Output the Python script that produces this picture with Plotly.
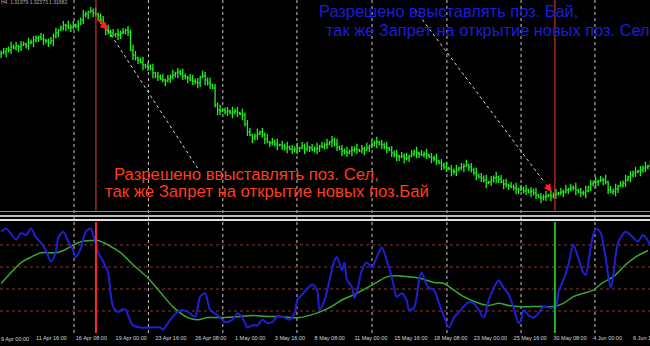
import plotly.graph_objects as go

# ---------------- data ----------------
bar_start = 2  # index of first visible H4 bar (bar 0 = 9 Apr 00:00)
close = [
    157, 158, 161, 160, 163, 162, 164, 163, 165, 166,
    164, 167, 168, 170, 172, 173, 171, 170, 169, 167,
    169, 174, 177, 180, 182, 185, 184, 182, 183, 185,
    184, 186, 190, 195, 196, 198, 199, 197, 196, 194,
    190, 184, 180, 178, 177, 175, 176, 175, 177, 178,
    180, 178, 160, 155, 152, 150, 148, 145, 144, 143,
    141, 137, 134, 133, 131, 130, 129, 131, 133, 135,
    137, 138, 136, 134, 133, 132, 130, 129, 128, 127,
    133, 134, 130, 127, 125, 122, 105, 100, 99, 100,
    98, 99, 97, 98, 99, 97, 96, 95, 86, 78,
    75, 72, 74, 76, 78, 75, 71, 68, 67, 68,
    66, 65, 65, 64, 62, 63, 61, 60, 61, 62,
    62, 64, 61, 63, 62, 60, 61, 62, 64, 63,
    65, 66, 68, 70, 66, 63, 61, 59, 58, 57,
    59, 60, 61, 60, 59, 61, 60, 62, 64, 66,
    67, 68, 66, 65, 63, 62, 60, 57, 55, 54,
    53, 54, 52, 52, 54, 56, 58, 57, 56, 55,
    56, 55, 53, 52, 51, 49, 47, 45, 43, 42,
    41, 39, 38, 40, 42, 43, 44, 45, 43, 40,
    37, 35, 33, 32, 30, 27, 28, 30, 32, 33,
    31, 28, 26, 25, 24, 23, 22, 21, 20, 21,
    19, 20, 18, 19, 17, 15, 13, 12, 13, 14,
    15, 14, 15, 16, 17, 18, 18, 20, 21, 22,
    22, 20, 18, 17, 17, 19, 23, 26, 27, 28,
    29, 30, 30, 28, 20, 18, 19, 21, 24, 25,
    27, 30, 33, 35, 37, 38, 39, 40, 42, 43,
    44, 45,
]
first_open = 156
up_wick = ("2312423132 1423213412 3241231423 1324213241 2314231423 1324312413 "
           "2413241324 1324213423 1432413241 2314231423 3124132413 2413241324 "
           "1324132413 2413241324 1324132413 2413241324 1324132413 2413241324 "
           "1324132413 2413241324 1324132413 2413241324 1324132413 2413241324 "
           "1324132413 2413241324 13").replace(" ", "")
dn_wick = ("3142312431 2314231423 1423124132 2413241324 3142312431 2314231423 "
           "1423124132 2413241324 3142312431 2314231423 1423124132 2413241324 "
           "3142312431 2314231423 1423124132 2413241324 3142312431 2314231423 "
           "1423124132 2413241324 3142312431 2314231423 1423124132 2413241324 "
           "3142312431 2314231423 21").replace(" ", "")

first_label = "9 Apr 00:00"   # its tick lies just left of the visible area
tick_bars = [16, 32, 48, 64, 80, 96, 112, 128, 144, 160, 176, 192, 208, 224, 240, 256]
tick_text = ["11 Apr 16:00", "16 Apr 08:00", "19 Apr 00:00",
             "23 Apr 16:00", "26 Apr 08:00", "1 May 00:00", "3 May 16:00",
             "8 May 08:00", "11 May 00:00", "15 May 16:00", "18 May 08:00",
             "23 May 00:00", "25 May 16:00", "30 May 08:00", "4 Jun 00:00",
             "6 Jun 16:00"]

osc_bars = [2, 4, 8, 10, 12, 14, 16, 18, 20, 22, 24, 25, 27, 29, 31, 32, 34, 36, 38, 39,
            41, 43, 45, 46, 47, 49, 50, 52, 53, 55, 58, 62, 66, 67, 69, 71, 73, 75, 77, 80,
            82, 84, 86, 89, 92, 95, 97, 99, 101, 103, 105, 107, 109, 111, 113, 115, 118, 120, 121, 123,
            127, 129, 130, 132, 134, 136, 137, 139, 140, 141, 143, 144, 145, 147, 149, 151, 153, 155, 157, 159,
            160, 161, 163, 165, 166, 168, 170, 171, 173, 174, 176, 178, 180, 182, 184, 186, 190, 192, 194, 196,
            198, 201, 202, 204, 206, 208, 210, 211, 212, 214, 216, 218, 220, 223, 225, 226, 228, 230, 232, 234,
            236, 237, 239, 241, 243, 245, 247, 248, 250, 253, 256, 258, 260, 263]
osc_vals = [92, 95, 85, 91, 89, 95, 87, 82, 75, 65, 74, 87, 92, 83, 75, 69, 77, 92, 95, 89,
            73, 65, 55, 36, 24, 19, 21, 21, 16, 7, 5, 5, 5, 3, 9, 15, 19, 21, 19, 15,
            33, 36, 21, 16, 10, 12, 18, 14, 5, 7, 7, 12, 9, 10, 15, 15, 12, 18, 30, 35,
            44, 39, 21, 30, 48, 66, 69, 57, 64, 48, 42, 32, 37, 57, 64, 60, 69, 78, 66, 51,
            41, 33, 36, 30, 21, 23, 48, 55, 44, 41, 39, 27, 15, 5, 14, 19, 28, 27, 21, 14,
            30, 45, 48, 41, 35, 23, 9, 12, 21, 16, 14, 18, 24, 23, 24, 37, 48, 62, 80, 68,
            55, 53, 78, 95, 91, 68, 41, 51, 82, 92, 87, 83, 89, 80]

sig_bars = [2, 6, 10, 14, 18, 24, 27, 31, 34, 38, 41, 45, 50, 55, 61, 66, 71, 77, 81, 85,
            90, 98, 103, 109, 114, 118, 122, 126, 130, 134, 139, 145, 149, 153, 157, 161, 166, 170, 176, 180,
            184, 188, 193, 198, 202, 206, 210, 215, 220, 224, 228, 232, 236, 240, 244, 248, 253, 257, 262]
sig_vals = [45, 55, 64, 69, 73, 73, 75, 80, 83, 84, 84, 80, 73, 62, 50, 37, 24, 14, 12, 14,
            14, 15, 16, 15, 15, 14, 14, 16, 19, 23, 30, 36, 41, 46, 51, 52, 51, 50, 46, 45,
            39, 33, 28, 25, 27, 25, 24, 24, 24, 24, 27, 33, 36, 39, 46, 51, 62, 69, 75]

grid_bars = [31.3, 61.2, 91.1, 120.9, 151.1, 181.2, 211.0, 240.7]
level_vals = [20, 40, 60, 80]
signal_bars = [40.1, 224.6]
signal_colors_low = ["#ff2a2a", "#22b822"]

trend_lines = [((44.9, 180), (80.9, 42)), ((168.4, 200), (220.6, 27))]
arrow_tips = [(44.9, 180), (223.4, 18)]

# ---------------- build OHLC ----------------
n = len(close)
bars = [bar_start + k for k in range(n)]
opens = [first_open] + close[:-1]
highs, lows = [], []
wick_scale = 1.3
for k in range(n):
    u = int(up_wick[k]) if k < len(up_wick) else 2
    d = int(dn_wick[k]) if k < len(dn_wick) else 2
    highs.append(max(opens[k], close[k]) + u * wick_scale)
    lows.append(min(opens[k], close[k]) - d * wick_scale)

W, H = 650, 346
def py(p):
    return 1 - p / H

x_px_per_bar = 2.4875
x_left = 3.8 / x_px_per_bar
x_range = [x_left, x_left + W / x_px_per_bar]

fig = go.Figure()
fig.add_trace(go.Ohlc(x=bars, open=opens, high=highs, low=lows, close=close,
                      increasing=dict(line=dict(color="#22f022", width=1.3)),
                      decreasing=dict(line=dict(color="#22f022", width=1.3)),
                      tickwidth=0.4, xaxis="x", yaxis="y", hoverinfo="skip"))
fig.add_trace(go.Scatter(x=sig_bars, y=sig_vals, mode="lines",
                         line=dict(color="#3aa830", width=1.5, shape="spline", smoothing=0.8),
                         xaxis="x2", yaxis="y2", hoverinfo="skip"))
fig.add_trace(go.Scatter(x=osc_bars, y=osc_vals, mode="lines",
                         line=dict(color="#1f1fd6", width=2, shape="spline", smoothing=0.8),
                         xaxis="x2", yaxis="y2", hoverinfo="skip"))

shapes = []
# vertical dotted grid through both panels
for g in grid_bars:
    shapes.append(dict(type="line", xref="x", yref="paper", x0=g, x1=g,
                       y0=py(333), y1=1, line=dict(color="#c8c8c8", width=1, dash="dot"),
                       layer="below"))
# lower-panel horizontal levels
for lv in level_vals:
    shapes.append(dict(type="line", xref="paper", yref="y2", x0=0, x1=1, y0=lv, y1=lv,
                       line=dict(color="#8a3a2a", width=1, dash="dot"), layer="below"))
# separator lines
shapes.append(dict(type="line", xref="paper", yref="paper", x0=0, x1=1, y0=py(211.5), y1=py(211.5),
                   line=dict(color="#8c8c8c", width=1)))
shapes.append(dict(type="line", xref="paper", yref="paper", x0=0, x1=1, y0=py(216), y1=py(216),
                   line=dict(color="#bdbdbd", width=2)))
shapes.append(dict(type="line", xref="paper", yref="paper", x0=0, x1=1, y0=py(220), y1=py(220),
                   line=dict(color="#e0e0e0", width=2)))
# signal verticals
for sb, col in zip(signal_bars, signal_colors_low):
    shapes.append(dict(type="line", xref="x", yref="paper", x0=sb, x1=sb, y0=py(210.5), y1=1,
                       line=dict(color="#e0402e", width=1)))
    shapes.append(dict(type="line", xref="x2", yref="paper", x0=sb, x1=sb, y0=py(333), y1=py(222),
                       line=dict(color=col, width=2)))
# dotted trend lines
for (a, b) in trend_lines:
    shapes.append(dict(type="line", xref="x", yref="y", x0=a[0], y0=a[1], x1=b[0], y1=b[1],
                       line=dict(color="#d8d8d8", width=1, dash="dot")))

annotations = []
red_txt = "#ff3c1e"
blue_txt = "#1c1cdc"
font_main = "Liberation Sans, Arial, sans-serif"
tick_font = dict(family=font_main, size=5.5, color="#d8d8d8")
annotations.append(dict(text="Разрешено ввыставлять поз. Сел,", xref="paper", yref="paper",
                        x=113 / W, y=py(174), xanchor="left", yanchor="middle", showarrow=False,
                        font=dict(family=font_main, size=16.7, color=red_txt), borderpad=0))
annotations.append(dict(text="так же Запрет на открытие новых поз.Бай", xref="paper", yref="paper",
                        x=104 / W, y=py(192), xanchor="left", yanchor="middle", showarrow=False,
                        font=dict(family=font_main, size=16.7, color=red_txt), borderpad=0))
annotations.append(dict(text="Разрешено ввыставлять поз. Бай,", xref="paper", yref="paper",
                        x=318 / W, y=py(11), xanchor="left", yanchor="middle", showarrow=False,
                        font=dict(family=font_main, size=16.4, color=blue_txt), borderpad=0))
annotations.append(dict(text="так же Запрет на открытие новых поз. Сел", xref="paper", yref="paper",
                        x=325 / W, y=py(30), xanchor="left", yanchor="middle", showarrow=False,
                        font=dict(family=font_main, size=16.4, color=blue_txt), borderpad=0))
annotations.append(dict(text="H4  1.31979 1.32373 1.31682", xref="paper", yref="paper",
                        x=0, y=py(2), xanchor="left", yanchor="middle", showarrow=False,
                        font=dict(family=font_main, size=5, color="#b0b0b0"), borderpad=0))
annotations.append(dict(text=first_label, xref="paper", yref="paper",
                        x=0, y=py(338.5), xanchor="left", yanchor="middle", showarrow=False,
                        font=tick_font, borderpad=0))
for (tx, ty), (axp, ayp) in zip(arrow_tips, [(-11, -12), (-7, -9)]):
    annotations.append(dict(text="", xref="x", yref="y", x=tx, y=ty, ax=axp, ay=ayp,
                            showarrow=True, arrowhead=2, arrowsize=0.8, arrowwidth=2,
                            arrowcolor="#ff2020"))

fig.update_layout(
    width=W, height=H, margin=dict(l=0, r=0, t=0, b=0),
    paper_bgcolor="black", plot_bgcolor="black", showlegend=False,
    shapes=shapes, annotations=annotations,
    xaxis=dict(domain=[0, 1], range=x_range, showgrid=False, zeroline=False,
               showticklabels=False, rangeslider=dict(visible=False), anchor="y"),
    yaxis=dict(domain=[py(210), 1], range=[0, 210], showgrid=False, zeroline=False,
               showticklabels=False, anchor="x"),
    xaxis2=dict(domain=[0, 1], range=x_range, showgrid=False, zeroline=False, anchor="y2",
                tickmode="array", tickvals=tick_bars, ticktext=tick_text, tickangle=0,
                ticklabelposition="outside right", ticklabeloverflow="allow",
                ticks="", automargin=False, tickfont=tick_font),
    yaxis2=dict(domain=[py(333), py(222)], range=[0, 100.9], showgrid=False, zeroline=False,
                showticklabels=False, anchor="x2"),
)

fig.write_html("out.html")
